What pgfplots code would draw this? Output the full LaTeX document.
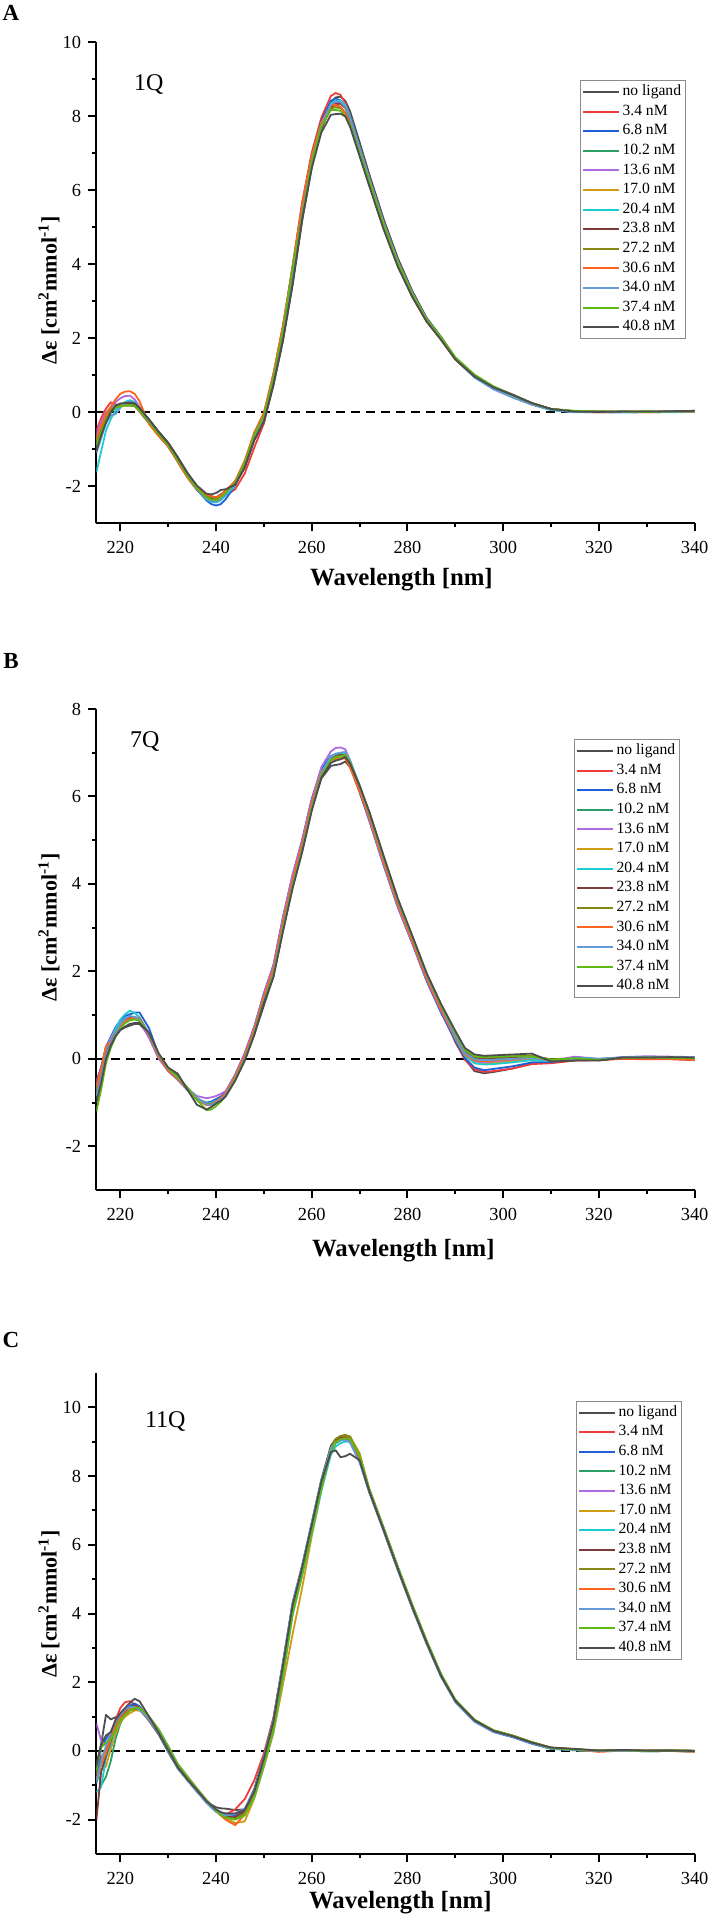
\documentclass[border=0pt]{standalone}
\usepackage{fontspec}
\setmainfont{Liberation Serif}
\usepackage{pgfplots}
\usepackage{pgfplotstable}
\pgfplotsset{compat=1.18}

\definecolor{c0}{RGB}{77,77,77}
\definecolor{c1}{RGB}{240,60,60}
\definecolor{c2}{RGB}{30,95,215}
\definecolor{c3}{RGB}{40,160,100}
\definecolor{c4}{RGB}{175,105,225}
\definecolor{c5}{RGB}{210,155,20}
\definecolor{c6}{RGB}{30,205,210}
\definecolor{c7}{RGB}{125,60,60}
\definecolor{c8}{RGB}{135,135,20}
\definecolor{c9}{RGB}{250,100,30}
\definecolor{c10}{RGB}{100,155,215}
\definecolor{c11}{RGB}{95,185,20}
\definecolor{c12}{RGB}{77,77,77}

\pgfplotstableread{
x s0 s1 s2 s3 s4 s5 s6 s7 s8 s9 s10 s11 s12
215 -1.00 -0.50 -0.65 -0.80 -0.60 -0.75 -1.62 -0.95 -0.85 -0.70 -1.10 -0.90 -1.05
216 -0.62 -0.15 -0.30 -0.42 -0.25 -0.40 -1.05 -0.55 -0.48 -0.35 -0.70 -0.55 -0.62
217 -0.25 0.10 -0.05 -0.15 0.00 -0.12 -0.50 -0.22 -0.18 -0.05 -0.30 -0.25 -0.28
218 0.00 0.27 0.10 0.05 0.12 0.08 -0.18 0.02 0.05 0.15 -0.08 0.02 0.00
219 0.15 0.22 0.15 0.18 0.28 0.16 0.05 0.14 0.16 0.35 -0.05 0.12 0.18
220 0.22 0.18 0.18 0.22 0.38 0.18 0.18 0.20 0.20 0.50 0.12 0.16 0.24
221 0.24 0.20 0.22 0.24 0.44 0.20 0.28 0.24 0.18 0.56 0.26 0.18 0.25
222 0.25 0.22 0.25 0.26 0.45 0.22 0.33 0.25 0.18 0.57 0.30 0.20 0.26
223 0.24 0.18 0.20 0.20 0.35 0.18 0.28 0.22 0.16 0.50 0.25 0.18 0.24
224 0.12 0.02 0.04 0.05 0.15 0.04 0.10 0.10 0.05 0.30 0.08 0.05 0.12
226 -0.19 -0.30 -0.28 -0.25 -0.23 -0.27 -0.22 -0.21 -0.25 -0.32 -0.23 -0.26 -0.20
228 -0.52 -0.63 -0.61 -0.58 -0.56 -0.60 -0.56 -0.54 -0.58 -0.64 -0.56 -0.59 -0.53
230 -0.82 -0.93 -0.91 -0.88 -0.86 -0.90 -0.85 -0.84 -0.88 -0.92 -0.86 -0.89 -0.83
232 -1.21 -1.34 -1.32 -1.28 -1.26 -1.30 -1.25 -1.23 -1.28 -1.33 -1.26 -1.29 -1.22
234 -1.63 -1.76 -1.74 -1.70 -1.68 -1.72 -1.67 -1.65 -1.70 -1.75 -1.68 -1.71 -1.64
236 -2.00 -2.10 -2.08 -2.05 -2.04 -2.07 -2.06 -2.01 -2.04 -2.06 -2.06 -2.06 -1.98
238 -2.25 -2.32 -2.38 -2.28 -2.30 -2.27 -2.35 -2.26 -2.25 -2.22 -2.34 -2.30 -2.20
239 -2.30 -2.38 -2.48 -2.35 -2.36 -2.32 -2.42 -2.32 -2.30 -2.26 -2.40 -2.36 -2.22
240 -2.30 -2.36 -2.52 -2.38 -2.38 -2.33 -2.44 -2.33 -2.32 -2.30 -2.42 -2.38 -2.18
241 -2.22 -2.32 -2.48 -2.30 -2.30 -2.26 -2.38 -2.25 -2.26 -2.24 -2.35 -2.30 -2.10
242 -2.12 -2.25 -2.35 -2.18 -2.18 -2.15 -2.25 -2.14 -2.15 -2.12 -2.22 -2.18 -2.08
244 -1.95 -2.08 -1.98 -1.90 -1.92 -1.88 -1.98 -1.95 -1.90 -1.85 -1.93 -1.90 -1.96
246 -1.50 -1.65 -1.36 -1.38 -1.41 -1.35 -1.45 -1.46 -1.38 -1.30 -1.41 -1.36 -1.48
248 -0.76 -0.95 -0.56 -0.63 -0.67 -0.60 -0.68 -0.72 -0.63 -0.54 -0.67 -0.61 -0.74
250 -0.28 -0.30 -0.03 -0.12 -0.16 -0.08 -0.19 -0.23 -0.12 -0.01 -0.16 -0.10 -0.25
252 0.73 0.98 1.03 0.92 0.87 0.98 0.84 0.78 0.92 1.06 0.87 0.95 0.76
254 1.94 2.35 2.32 2.18 2.11 2.25 2.08 2.01 2.18 2.36 2.11 2.22 1.97
256 3.44 3.96 3.88 3.95 3.64 3.80 3.60 3.52 3.72 3.92 3.64 3.90 3.48
258 5.18 5.68 5.61 5.52 5.37 5.53 5.33 5.26 5.45 5.65 5.37 5.30 5.22
260 6.62 7.02 6.95 6.82 6.76 6.86 6.73 6.66 6.80 6.95 6.76 6.78 6.60
262 7.67 7.96 7.88 7.78 7.73 7.78 7.73 7.66 7.73 7.84 7.73 7.73 7.56
264 8.37 8.55 8.42 8.35 8.30 8.26 8.34 8.25 8.22 8.30 8.32 8.17 8.04
265 8.51 8.63 8.48 8.42 8.37 8.27 8.43 8.33 8.24 8.31 8.40 8.17 8.06
266 8.53 8.58 8.43 8.40 8.36 8.24 8.43 8.34 8.22 8.26 8.39 8.15 8.07
267 8.42 8.36 8.25 8.25 8.23 8.09 8.30 8.23 8.09 8.09 8.25 8.01 8.00
268 8.14 7.99 7.92 7.95 7.95 7.81 8.01 7.98 7.82 7.78 7.97 7.76 7.72
270 7.30 7.06 7.05 7.12 7.14 7.03 7.19 7.20 7.06 6.97 7.16 7.01 6.92
272 6.44 6.18 6.38 6.30 6.34 6.26 6.36 6.40 6.28 6.20 6.34 6.26 6.12
275 5.23 4.99 5.17 5.10 5.14 5.06 5.16 5.19 5.08 5.01 5.14 5.08 4.95
278 4.16 3.95 4.12 4.05 4.08 4.02 4.10 4.13 4.04 3.97 4.08 4.04 3.93
281 3.28 3.12 3.25 3.20 3.22 3.18 3.24 3.26 3.20 3.14 3.23 3.20 3.12
284 2.55 2.46 2.53 2.50 2.51 2.48 2.53 2.54 2.50 2.46 2.52 2.51 2.45
287 2.04 1.97 2.02 2.00 2.01 1.99 2.02 2.03 2.01 1.97 2.01 2.03 1.96
290 1.47 1.43 1.46 1.46 1.44 1.45 1.44 1.47 1.47 1.43 1.45 1.49 1.43
294 0.99 0.95 0.96 0.99 0.95 0.97 0.94 0.99 1.00 0.96 0.95 1.02 0.97
298 0.69 0.64 0.64 0.68 0.62 0.66 0.63 0.68 0.69 0.66 0.64 0.70 0.67
302 0.48 0.42 0.41 0.45 0.40 0.44 0.41 0.46 0.46 0.43 0.42 0.46 0.47
306 0.25 0.22 0.21 0.24 0.21 0.23 0.21 0.24 0.25 0.22 0.22 0.25 0.25
310 0.09 0.07 0.07 0.09 0.07 0.08 0.06 0.09 0.09 0.08 0.07 0.09 0.09
315 0.02 0.01 0.01 0.03 0.01 0.02 0.00 0.02 0.03 0.02 0.01 0.04 0.02
320 0.01 0.00 0.01 0.02 0.01 0.01 0.00 0.02 0.02 0.00 0.01 0.02 0.01
325 0.02 0.01 0.00 0.01 0.02 0.01 0.00 0.01 0.02 0.01 0.00 0.02 0.02
330 0.01 0.00 0.01 0.02 0.01 0.02 0.01 0.01 0.02 0.00 0.01 0.01 0.02
335 0.02 0.01 0.01 0.01 0.02 0.01 0.00 0.02 0.01 0.01 0.01 0.02 0.03
340 0.04 0.02 0.02 0.01 0.03 0.02 0.01 0.03 0.02 0.01 0.02 0.02 0.04
}\tabA

\pgfplotstableread{
x s0 s1 s2 s3 s4 s5 s6 s7 s8 s9 s10 s11 s12
215 -0.90 -0.50 -0.60 -0.75 -0.62 -0.85 -0.70 -0.80 -0.78 -0.65 -0.85 -1.20 -1.00
216 -0.50 -0.20 -0.18 -0.35 -0.22 -0.42 -0.38 -0.40 -0.40 -0.25 -0.45 -0.70 -0.55
217 0.02 0.22 0.28 0.15 0.25 0.10 0.13 0.10 0.10 0.30 0.07 -0.10 0.00
218 0.30 0.45 0.50 0.40 0.48 0.36 0.42 0.38 0.37 0.38 0.35 0.25 0.30
219 0.52 0.66 0.72 0.62 0.68 0.58 0.68 0.60 0.59 0.60 0.58 0.50 0.52
220 0.66 0.84 0.88 0.82 0.84 0.76 0.90 0.78 0.76 0.75 0.80 0.70 0.66
221 0.72 0.90 0.98 0.92 0.92 0.86 1.02 0.88 0.85 0.86 0.92 0.82 0.74
222 0.76 0.92 1.02 0.96 0.94 0.90 1.10 0.93 0.90 0.92 0.98 0.88 0.80
223 0.80 0.92 1.06 0.95 0.92 0.92 1.05 0.95 0.92 0.94 0.96 0.90 0.82
224 0.80 0.88 1.06 0.90 0.86 0.92 0.95 0.93 0.92 0.93 0.90 0.88 0.82
226 0.55 0.50 0.70 0.55 0.48 0.58 0.56 0.57 0.57 0.56 0.59 0.58 0.60
228 0.10 0.02 0.10 0.06 0.01 0.09 0.07 0.08 0.08 0.06 0.10 0.11 0.13
230 -0.21 -0.28 -0.27 -0.25 -0.28 -0.23 -0.24 -0.24 -0.24 -0.26 -0.22 -0.22 -0.20
232 -0.40 -0.47 -0.48 -0.45 -0.48 -0.43 -0.44 -0.44 -0.44 -0.46 -0.43 -0.42 -0.34
234 -0.66 -0.70 -0.71 -0.68 -0.68 -0.66 -0.67 -0.67 -0.67 -0.69 -0.66 -0.66 -0.70
236 -0.92 -0.92 -0.92 -0.90 -0.85 -0.90 -0.90 -0.91 -0.90 -0.93 -0.90 -0.94 -1.05
238 -1.05 -1.04 -1.00 -1.02 -0.90 -1.03 -1.02 -1.04 -1.03 -1.06 -1.04 -1.17 -1.16
239 -1.04 -1.02 -0.98 -1.02 -0.88 -1.03 -1.01 -1.04 -1.03 -1.05 -1.05 -1.16 -1.10
240 -0.99 -0.95 -0.92 -0.97 -0.85 -0.98 -0.96 -0.99 -0.98 -0.98 -1.00 -1.08 -1.02
241 -0.93 -0.88 -0.86 -0.90 -0.80 -0.92 -0.90 -0.92 -0.91 -0.89 -0.93 -0.98 -0.96
242 -0.84 -0.77 -0.76 -0.80 -0.74 -0.82 -0.81 -0.82 -0.81 -0.79 -0.83 -0.86 -0.86
244 -0.48 -0.38 -0.36 -0.42 -0.37 -0.45 -0.43 -0.44 -0.44 -0.40 -0.46 -0.47 -0.50
246 -0.03 0.10 0.13 0.05 0.12 0.01 0.04 0.02 0.02 0.08 0.00 -0.02 -0.04
248 0.56 0.71 0.74 0.65 0.73 0.61 0.64 0.62 0.62 0.68 0.59 0.58 0.55
250 1.22 1.47 1.50 1.40 1.49 1.35 1.38 1.37 1.37 1.43 1.33 1.32 1.28
252 1.89 2.10 2.15 2.02 2.13 1.96 2.00 1.98 1.98 2.06 1.94 1.92 1.87
254 2.95 3.20 3.25 3.10 3.23 3.02 3.07 3.05 3.05 3.15 3.00 2.97 2.92
256 3.93 4.15 4.20 4.06 4.22 3.99 4.04 4.02 4.02 4.10 3.97 3.95 3.90
258 4.75 4.97 5.01 4.88 4.99 4.81 4.86 4.84 4.84 4.92 4.79 4.77 4.73
260 5.72 5.90 5.95 5.82 5.92 5.76 5.80 5.78 5.78 5.86 5.74 5.72 5.67
262 6.41 6.59 6.63 6.55 6.67 6.50 6.55 6.52 6.52 6.55 6.51 6.48 6.43
264 6.70 6.86 6.93 6.88 7.03 6.83 6.91 6.87 6.86 6.83 6.90 6.83 6.77
265 6.72 6.89 6.96 6.93 7.11 6.87 6.98 6.93 6.91 6.85 6.97 6.89 6.82
266 6.74 6.90 6.97 6.95 7.12 6.90 7.00 6.95 6.93 6.87 7.00 6.92 6.85
267 6.80 6.89 6.94 6.95 7.08 6.92 7.00 6.96 6.94 6.87 7.02 6.95 6.90
268 6.67 6.68 6.70 6.75 6.82 6.75 6.80 6.77 6.76 6.67 6.83 6.78 6.75
270 6.20 6.10 6.10 6.18 6.17 6.21 6.21 6.21 6.20 6.12 6.26 6.24 6.25
272 5.65 5.49 5.45 5.55 5.47 5.60 5.57 5.58 5.58 5.52 5.61 5.63 5.66
275 4.63 4.46 4.43 4.53 4.45 4.58 4.55 4.56 4.56 4.50 4.60 4.61 4.65
278 3.64 3.49 3.46 3.55 3.48 3.60 3.57 3.58 3.58 3.52 3.61 3.63 3.66
281 2.80 2.66 2.64 2.72 2.65 2.76 2.73 2.75 2.75 2.69 2.78 2.79 2.82
284 1.95 1.80 1.78 1.87 1.81 1.91 1.88 1.90 1.90 1.84 1.92 1.94 1.96
287 1.24 1.08 1.06 1.16 1.10 1.19 1.17 1.19 1.20 1.13 1.21 1.23 1.26
290 0.38 0.40 0.42 0.52 0.47 0.48 0.48 0.56 0.58 0.50 0.53 0.60 0.64
292 0.00 -0.02 0.02 0.14 0.08 0.08 0.08 0.17 0.19 0.10 0.13 0.20 0.25
294 -0.28 -0.24 -0.20 0.00 -0.06 -0.10 -0.10 0.03 0.05 -0.04 -0.01 0.06 0.10
296 -0.33 -0.30 -0.26 -0.02 -0.08 -0.12 -0.13 0.01 0.03 -0.05 -0.03 0.04 0.07
298 -0.30 -0.28 -0.23 0.00 -0.07 -0.10 -0.12 0.02 0.04 -0.04 -0.02 0.05 0.08
302 -0.22 -0.22 -0.17 0.01 -0.04 -0.06 -0.08 0.04 0.06 -0.01 0.00 0.06 0.10
306 -0.10 -0.12 -0.08 0.03 0.00 -0.02 -0.03 0.06 0.07 0.03 0.02 0.05 0.12
310 -0.08 -0.10 -0.07 -0.03 -0.04 -0.05 -0.05 -0.02 -0.01 -0.04 -0.03 -0.02 -0.06
315 -0.03 -0.04 -0.02 0.00 0.05 -0.01 0.02 0.00 0.01 -0.02 0.00 0.01 -0.04
320 -0.02 -0.03 -0.01 -0.01 0.00 -0.02 0.00 -0.03 -0.02 -0.01 0.00 -0.02 -0.04
325 0.02 0.00 0.02 0.03 0.04 0.02 0.03 0.03 0.02 0.01 0.03 0.02 0.03
330 0.02 -0.01 0.02 0.03 0.06 0.03 0.04 0.02 0.03 0.00 0.04 0.03 0.03
335 0.03 -0.01 0.02 0.02 0.05 0.03 0.03 0.02 0.02 0.00 0.03 0.02 0.04
340 0.02 -0.03 0.01 0.02 0.04 0.02 0.03 0.01 0.02 -0.02 0.02 0.01 0.03
}\tabB

\pgfplotstableread{
x s0 s1 s2 s3 s4 s5 s6 s7 s8 s9 s10 s11 s12
215 -0.40 -0.60 -0.90 -0.50 0.80 -0.80 -1.20 -2.00 -0.70 -0.85 -0.95 -0.55 -0.45
216 0.20 -0.20 0.10 -1.00 0.30 -0.55 -1.05 -0.60 -0.35 -0.40 -0.30 0.10 0.20
217 1.05 0.05 0.35 -0.75 0.15 -0.45 -0.20 -0.15 -0.10 -0.05 0.15 0.25 0.45
218 0.92 0.50 0.55 -0.30 0.40 0.05 0.20 0.30 0.35 0.35 0.55 0.35 0.55
219 0.98 0.90 0.75 0.35 0.75 0.50 0.65 0.70 0.70 0.70 0.85 0.60 0.90
220 1.05 1.25 0.95 0.80 0.98 0.85 0.95 1.00 0.95 0.95 1.05 0.90 1.10
221 1.15 1.42 1.15 1.05 1.12 1.00 1.12 1.15 1.08 1.10 1.20 1.05 1.25
222 1.25 1.45 1.32 1.20 1.22 1.10 1.22 1.28 1.18 1.22 1.28 1.18 1.40
223 1.30 1.35 1.38 1.28 1.25 1.18 1.25 1.32 1.22 1.28 1.28 1.25 1.52
224 1.22 1.20 1.30 1.27 1.20 1.18 1.20 1.25 1.22 1.25 1.20 1.25 1.45
226 0.88 0.90 0.95 0.98 0.95 1.00 0.98 0.95 0.98 0.97 0.92 1.00 1.00
228 0.48 0.52 0.53 0.57 0.55 0.64 0.62 0.55 0.58 0.57 0.51 0.60 0.53
230 -0.03 0.03 0.03 0.08 0.05 0.15 0.13 0.05 0.09 0.08 0.00 0.11 0.03
232 -0.51 -0.47 -0.47 -0.43 -0.45 -0.37 -0.39 -0.45 -0.42 -0.43 -0.49 -0.40 -0.47
234 -0.85 -0.82 -0.82 -0.78 -0.80 -0.73 -0.75 -0.80 -0.77 -0.78 -0.84 -0.76 -0.82
236 -1.18 -1.17 -1.17 -1.13 -1.15 -1.08 -1.10 -1.12 -1.12 -1.13 -1.18 -1.11 -1.14
238 -1.45 -1.50 -1.50 -1.47 -1.48 -1.42 -1.44 -1.48 -1.46 -1.47 -1.51 -1.45 -1.46
239 -1.56 -1.64 -1.63 -1.61 -1.60 -1.57 -1.58 -1.62 -1.60 -1.61 -1.65 -1.59 -1.58
240 -1.64 -1.76 -1.76 -1.75 -1.72 -1.72 -1.72 -1.75 -1.74 -1.75 -1.77 -1.73 -1.70
241 -1.67 -1.84 -1.84 -1.86 -1.80 -1.84 -1.82 -1.85 -1.85 -1.88 -1.85 -1.86 -1.78
242 -1.68 -1.85 -1.88 -1.92 -1.83 -1.95 -1.88 -1.90 -1.93 -2.00 -1.88 -1.94 -1.82
244 -1.72 -1.70 -1.88 -1.95 -1.82 -2.10 -1.95 -1.92 -1.98 -2.16 -1.84 -2.00 -1.82
246 -1.70 -1.40 -1.72 -1.80 -1.68 -2.05 -1.85 -1.75 -1.82 -1.85 -1.68 -1.88 -1.72
248 -1.10 -0.85 -1.18 -1.26 -1.22 -1.38 -1.34 -1.22 -1.28 -1.26 -1.14 -1.32 -1.18
250 -0.12 -0.07 -0.22 -0.32 -0.27 -0.47 -0.42 -0.27 -0.35 -0.32 -0.17 -0.40 -0.22
252 0.92 0.98 0.86 0.72 0.79 0.52 0.59 0.79 0.69 0.72 0.92 0.62 0.86
254 2.59 2.55 2.51 2.34 2.42 1.95 2.17 2.42 2.29 2.34 2.59 2.21 2.51
256 4.31 4.24 4.24 4.10 4.17 3.40 3.95 4.17 4.06 4.10 4.31 3.99 4.24
258 5.40 5.33 5.34 5.22 5.28 4.75 5.10 5.28 5.19 5.22 5.40 5.13 5.34
260 6.64 6.58 6.58 6.46 6.52 6.25 6.33 6.52 6.43 6.46 6.64 6.37 6.58
262 7.90 7.83 7.82 7.72 7.77 7.57 7.57 7.78 7.72 7.71 7.87 7.63 7.83
264 8.88 8.81 8.77 8.77 8.78 8.70 8.62 8.80 8.81 8.75 8.80 8.71 8.70
265 9.08 9.01 8.96 9.01 9.00 8.99 8.86 9.03 9.08 8.99 8.98 8.97 8.75
266 9.14 9.09 9.04 9.11 9.08 9.11 8.96 9.11 9.17 9.08 9.04 9.07 8.55
267 9.15 9.10 9.05 9.12 9.10 9.15 9.00 9.13 9.20 9.10 9.05 9.10 8.58
268 9.06 9.04 8.99 9.08 9.05 9.15 9.02 9.07 9.15 9.07 8.98 9.09 8.65
270 8.44 8.46 8.44 8.55 8.50 8.67 8.57 8.51 8.60 8.54 8.40 8.60 8.46
272 7.54 7.56 7.56 7.60 7.58 7.64 7.62 7.58 7.61 7.60 7.54 7.63 7.57
275 6.42 6.43 6.43 6.47 6.45 6.51 6.50 6.45 6.48 6.47 6.41 6.50 6.44
278 5.27 5.28 5.28 5.32 5.30 5.36 5.35 5.30 5.33 5.32 5.26 5.35 5.29
281 4.17 4.18 4.18 4.22 4.20 4.26 4.25 4.20 4.23 4.22 4.16 4.25 4.19
284 3.13 3.14 3.14 3.18 3.16 3.21 3.20 3.16 3.19 3.18 3.12 3.21 3.15
287 2.18 2.19 2.18 2.22 2.20 2.24 2.23 2.20 2.22 2.21 2.16 2.24 2.19
290 1.45 1.45 1.44 1.47 1.46 1.49 1.48 1.46 1.48 1.47 1.42 1.49 1.46
294 0.88 0.88 0.86 0.90 0.89 0.91 0.90 0.89 0.90 0.90 0.85 0.91 0.89
298 0.58 0.57 0.55 0.59 0.58 0.60 0.59 0.59 0.60 0.59 0.55 0.60 0.58
302 0.43 0.42 0.40 0.44 0.43 0.44 0.43 0.44 0.45 0.43 0.41 0.44 0.43
306 0.24 0.23 0.21 0.25 0.24 0.25 0.24 0.25 0.26 0.24 0.22 0.25 0.24
310 0.09 0.08 0.06 0.08 0.08 0.09 0.07 0.09 0.10 0.08 0.07 0.08 0.10
315 0.05 0.03 0.02 0.03 0.03 0.04 0.02 0.04 0.05 0.03 0.03 0.04 0.06
320 0.00 -0.02 0.00 0.01 0.00 0.01 0.00 0.01 0.02 -0.02 0.00 0.01 0.01
325 0.02 0.01 0.01 0.02 0.02 0.02 0.01 0.03 0.03 0.01 0.01 0.02 0.03
330 0.00 -0.01 0.00 -0.01 0.00 0.01 -0.01 0.01 0.01 0.00 0.00 0.00 0.01
335 0.01 0.00 0.00 0.00 0.01 0.02 0.00 0.01 0.02 0.00 0.01 0.01 0.01
340 0.00 -0.02 -0.01 -0.01 0.00 0.00 -0.01 0.00 0.01 -0.02 0.00 0.00 0.00
}\tabC

\pgfplotsset{
  cdaxis/.style={
    scale only axis, width=299.1pt, height=240.5pt,
    anchor=north west,
    xmin=215, xmax=340,
    axis lines=left,
    axis line style={-, line width=1pt, black},
    xtick={220,240,...,340},
    xticklabels={220,240,260,280,300,320,340},
    minor xtick={230,250,...,330},
    tick align=outside,
    major tick length=4pt, minor tick length=2pt,
    every tick/.style={black, line width=1pt},
    tick label style={font=\fontsize{9.2}{11}\selectfont},
    xticklabel style={anchor=north, inner sep=0pt, yshift=-4.8pt},
    yticklabel style={anchor=east, inner sep=0pt, xshift=-3.5pt},
    xlabel={Wavelength [nm]},
    xlabel style={font=\bfseries\fontsize{12.4}{14}\selectfont, anchor=center},
    ylabel={Δε [cm\textsuperscript{2}mmol\textsuperscript{-1}]},
    ylabel style={font=\bfseries\fontsize{11}{13}\selectfont, anchor=center},
    every axis plot/.append style={line width=0.9pt, line join=round, mark=none},
    legend cell align=left,
    legend style={anchor=north east, draw=black!45, line width=0.5pt,
      font=\fontsize{7.8}{9}\selectfont,
      inner xsep=1pt, inner ysep=0.8pt, row sep=0pt,
      nodes={inner ysep=1.4pt, inner xsep=1.2pt, text height=5.4pt, text depth=1.6pt}},
    legend image code/.code={\draw[#1, line width=1pt] (0pt,0pt) -- (18pt,0pt);},
  }
}

\newcommand{\cdplots}[1]{%
  \addplot[forget plot, black, line width=1pt, dash pattern=on 4.5pt off 3pt] coordinates {(215,0) (340,0)};
  \addplot[c0] table[x=x,y=s0]{#1};
  \addplot[c1] table[x=x,y=s1]{#1};
  \addplot[c2] table[x=x,y=s2]{#1};
  \addplot[c3] table[x=x,y=s3]{#1};
  \addplot[c4] table[x=x,y=s4]{#1};
  \addplot[c5] table[x=x,y=s5]{#1};
  \addplot[c6] table[x=x,y=s6]{#1};
  \addplot[c7] table[x=x,y=s7]{#1};
  \addplot[c8] table[x=x,y=s8]{#1};
  \addplot[c9] table[x=x,y=s9]{#1};
  \addplot[c10] table[x=x,y=s10]{#1};
  \addplot[c11] table[x=x,y=s11]{#1};
  \addplot[c12] table[x=x,y=s12]{#1};
  \legend{no ligand,3.4 nM,6.8 nM,10.2 nM,13.6 nM,17.0 nM,20.4 nM,23.8 nM,27.2 nM,30.6 nM,34.0 nM,37.4 nM,40.8 nM}
}

\begin{document}
\begin{tikzpicture}
\useasboundingbox (0,0) rectangle (354.5pt,-959.5pt);

\node[font=\bfseries\fontsize{11.5}{13}\selectfont] at (5.5pt,-6.5pt) {A};
\node[font=\bfseries\fontsize{11.5}{13}\selectfont] at (5.5pt,-330.5pt) {B};
\node[font=\bfseries\fontsize{11.5}{13}\selectfont] at (5.5pt,-670pt) {C};

\begin{axis}[cdaxis, at={(48.2pt,-21.15pt)},
  ymin=-3, ymax=10, ytick={-2,0,...,10}, yticklabels={-2,0,2,4,6,8,10},
  minor ytick={-1,1,...,9},
  xlabel style={at={(axis description cs:0.51,-0.1177)}},
  ylabel style={at={(axis description cs:-0.0792,0.484)}},
  legend style={at={(axis description cs:0.9856,0.9216)}}]
\cdplots{\tabA}
\node[font=\fontsize{12}{14}\selectfont] at (axis cs:225.95,8.85) {1Q};
\end{axis}

\begin{axis}[cdaxis, at={(48.2pt,-354.5pt)},
  ymin=-3, ymax=8, ytick={-2,0,...,8}, yticklabels={-2,0,2,4,6,8},
  minor ytick={-1,1,...,7},
  xlabel style={at={(axis description cs:0.513,-0.1268)}},
  ylabel style={at={(axis description cs:-0.0792,0.546)}},
  legend style={at={(axis description cs:0.9756,0.9376)}}]
\cdplots{\tabB}
\node[font=\fontsize{12}{14}\selectfont] at (axis cs:225.1,7.26) {7Q};
\end{axis}

\begin{axis}[cdaxis, at={(48.2pt,-686.5pt)},
  ymin=-3, ymax=11, ytick={-2,0,...,10}, yticklabels={-2,0,2,4,6,8,10},
  minor ytick={-1,1,...,9},
  xlabel style={at={(axis description cs:0.508,-0.1019)}},
  ylabel style={at={(axis description cs:-0.0792,0.52)}},
  legend style={at={(axis description cs:0.9789,0.9426)}}]
\cdplots{\tabC}
\node[font=\fontsize{12}{14}\selectfont] at (axis cs:229.4,9.58) {11Q};
\end{axis}
\end{tikzpicture}
\end{document}
